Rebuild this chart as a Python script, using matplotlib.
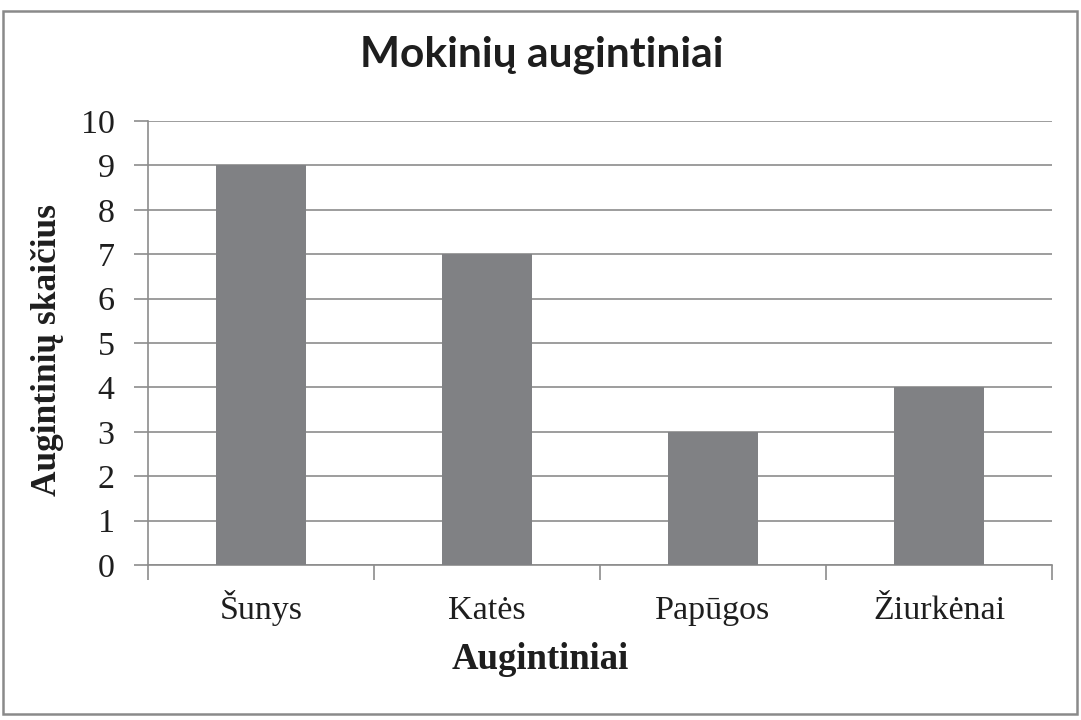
import matplotlib
matplotlib.use("Agg")
import matplotlib.pyplot as plt
from matplotlib.patches import Rectangle
from matplotlib.transforms import blended_transform_factory

categories = ["Šunys", "Katės", "Papūgos", "Žiurkėnai"]
values = [9, 7, 3, 4]
yticks = list(range(0, 11))

title = "Mokinių augintiniai"
xlabel = "Augintiniai"
ylabel = "Augintinių skaičius"

title_font = "Lato"
serif = "Liberation Serif"
grid_c = "#8c8c8c"
bar_c = "#808184"
txt_c = "#1e1e1e"

fig = plt.figure(figsize=(10.81, 7.2), dpi=100)
W, H = 1081, 720
ax = fig.add_axes([148 / W, 1 - 565 / H, (1052 - 148) / W, (565 - 121) / H])

x = list(range(len(categories)))
ax.bar(x, values, width=0.4, color=bar_c, zorder=3)
ax.set_xlim(-0.5, len(categories) - 0.5)
ax.set_ylim(0, 10)
ax.set_yticks(yticks)
ax.set_yticklabels([str(t) for t in yticks], fontfamily=serif, fontsize=24.5, color=txt_c)
ax.set_xticks(x)
ax.set_xticklabels([])
ax.set_xticks([i - 0.5 for i in range(len(categories) + 1)], minor=True)
ax.tick_params(axis="x", which="major", length=0)
ax.tick_params(axis="x", which="minor", length=11, width=1.2, color=grid_c, direction="out")
ax.tick_params(axis="y", length=10, width=1.2, color=grid_c, direction="out", pad=14)

trans = blended_transform_factory(ax.transData, fig.transFigure)
for xi, lab in zip(x, categories):
    ax.text(xi, 1 - 619 / H, lab, transform=trans, fontfamily=serif, fontsize=24.5,
            ha="center", va="baseline", color=txt_c)

ax.yaxis.grid(True, color=grid_c, linewidth=1.2, zorder=0)
ax.set_axisbelow(True)
for s in ["top", "right"]:
    ax.spines[s].set_visible(False)
for s in ["left", "bottom"]:
    ax.spines[s].set_color(grid_c)
    ax.spines[s].set_linewidth(1.2)

t = fig.text(541.5 / W, 1 - 67 / H, title, fontfamily=title_font, fontweight="bold",
             fontsize=28, ha="center", va="baseline", color=txt_c)
fig.canvas.draw()
w = t.get_window_extent().width
t.set_fontsize(28 * 363 / w)

fig.text(540 / W, 1 - 669 / H, xlabel, fontfamily=serif, fontweight="bold",
         fontsize=26.5, ha="center", va="baseline", color=txt_c)
fig.text(48 / W, 1 - 350 / H, ylabel, fontfamily=serif, fontweight="bold",
         fontsize=25.5, ha="center", va="center", rotation=90, color=txt_c)

fig.patches.append(Rectangle((3 / W, 1 - 714 / H), (1077 - 3) / W, (714 - 11) / H,
                             transform=fig.transFigure, fill=False,
                             edgecolor="#8a8a8a", linewidth=1.8))

fig.savefig("out.png", dpi=100)
